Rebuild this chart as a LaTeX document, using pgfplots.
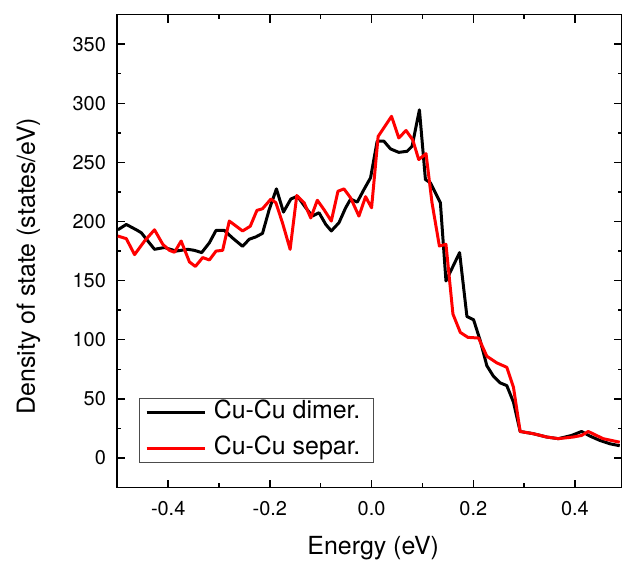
\documentclass[border=0pt]{standalone}
\usepackage{pgfplots}
\pgfplotsset{compat=1.18}
\usepackage{fontspec}
\setmainfont{TeX Gyre Heros}
\begin{document}
\begin{tikzpicture}
\begin{axis}[
  scale only axis,
  width=253.1pt, height=237.15pt,
  xmin=-0.5, xmax=0.4925,
  ymin=-25, ymax=375,
  xtick={-0.4,-0.2,0,0.2,0.4},
  ytick={0,50,100,150,200,250,300,350},
  minor x tick num=1,
  minor y tick num=1,
  tick align=inside,
  major tick length=4pt,
  minor tick length=2pt,
  axis line style={line width=0.85pt},
  every tick/.style={black, line width=0.7pt},
  /pgf/number format/assume math mode=true,
  tick label style={font=\fontsize{10}{12}\selectfont},
  xticklabel style={/pgf/number format/.cd, fixed, fixed zerofill, precision=1, /tikz/.cd, yshift=-3.3pt},
  yticklabel style={/pgf/number format/.cd, fixed, precision=0, /tikz/.cd, xshift=-2.2pt},
  scaled ticks=false,
  xlabel={Energy (eV)},
  ylabel={Density of state (states/eV)},
  label style={font=\fontsize{12.5}{15}\selectfont},
  xlabel style={at={(axis description cs:0.507,-0.1427)}, anchor=base},
  ylabel style={at={(axis description cs:-0.1634,0.468)}, anchor=base, rotate=0},
  legend style={at={(axis description cs:0.042,0.0527)}, anchor=south west,
    draw=black!70, line width=0.5pt, font=\fontsize{12.5}{15}\selectfont,
    inner xsep=3pt, inner ysep=0.5pt, row sep=5pt,
    nodes={inner xsep=3.5pt, inner ysep=0.5pt, text height=9pt, text depth=3pt}},
  legend cell align=left,
  legend image code/.code={\draw[#1, line width=1.5pt] (0pt,0pt) -- (29.5pt,0pt);},
]
\addplot[black, line width=1.5pt, line join=round] coordinates {
(-0.499,193) (-0.4824,197.5) (-0.4627,193) (-0.4529,190.5) (-0.4400,183.5)
(-0.4269,176.5) (-0.4073,178) (-0.3843,175) (-0.3616,176.5) (-0.3484,175.6)
(-0.3341,173.7) (-0.3190,182) (-0.3059,192.5) (-0.2896,192.5) (-0.2733,186)
(-0.2537,179) (-0.2406,185) (-0.2275,187) (-0.2145,190) (-0.2014,210)
(-0.1871,227.6) (-0.1733,208) (-0.1588,219) (-0.1459,221.4) (-0.1294,211.6)
(-0.1165,204.6) (-0.1033,207.4) (-0.0902,197.6) (-0.0792,192) (-0.0641,199)
(-0.0510,211.6) (-0.0412,219) (-0.0282,216.4) (-0.0151,227) (-0.0020,237)
(0.0110,268) (0.0241,268) (0.0373,261.4) (0.0535,258.5) (0.0698,259.4)
(0.0796,263.6) (0.0941,294.5) (0.1059,235.5) (0.1157,232.7) (0.1353,215.9)
(0.1463,149.7) (0.1731,173.7) (0.1875,119.7) (0.2006,116.9) (0.2137,99.2)
(0.2267,78) (0.2398,69) (0.2529,63.5) (0.2659,61.2) (0.2790,47.2)
(0.2922,22.4) (0.3182,20.5) (0.3443,17.7) (0.3673,16.3) (0.3933,19)
(0.4129,22.4) (0.4294,18.5) (0.4490,14.8) (0.4686,12) (0.4880,10.3)
};
\addlegendentry{Cu-Cu dimer.}
\addplot[red, line width=1.5pt, line join=round] coordinates {
(-0.499,187.7) (-0.4824,185.5) (-0.4661,172) (-0.4465,183.5) (-0.4269,193)
(-0.4106,180.7) (-0.3975,175.6) (-0.3876,174) (-0.3745,183.5) (-0.3582,165.8)
(-0.3465,162) (-0.3322,169.5) (-0.3190,167.5) (-0.3059,175) (-0.2929,175.6)
(-0.2798,200.4) (-0.2537,192) (-0.2386,196) (-0.2255,209.4) (-0.2145,210.8)
(-0.1980,219) (-0.1882,215.9) (-0.1753,199) (-0.1602,176.5) (-0.1471,222)
(-0.1327,215.9) (-0.1196,203) (-0.1067,218) (-0.0935,210) (-0.0792,200.4)
(-0.0661,225.6) (-0.0543,227.6) (-0.0412,220) (-0.0249,204.6) (-0.0118,221)
(0.0000,211.6) (0.0129,272) (0.0392,289) (0.0535,270.7) (0.0678,277)
(0.0810,269) (0.0927,252.4) (0.1071,257.4) (0.1188,216) (0.1333,179.3)
(0.1463,180.7) (0.1600,121.7) (0.1745,106.2) (0.1894,102) (0.2104,101.4)
(0.2267,86) (0.2463,80.4) (0.2659,76.7) (0.2790,59.9) (0.2922,22.4)
(0.3182,20.5) (0.3443,17.7) (0.3673,16.3) (0.3967,17.7) (0.4129,19)
(0.4261,22.4) (0.4424,19) (0.4555,16.3) (0.4718,14.8) (0.4880,13.3)
};
\addlegendentry{Cu-Cu separ.}
\end{axis}
\pgfresetboundingbox
\path (current axis.south west) ++(-58.85pt,-37pt) coordinate (bl);
\path (current axis.north east) ++(-0.95pt,7.35pt) coordinate (tr);
\path (bl) rectangle (tr);
\end{tikzpicture}
\end{document}
